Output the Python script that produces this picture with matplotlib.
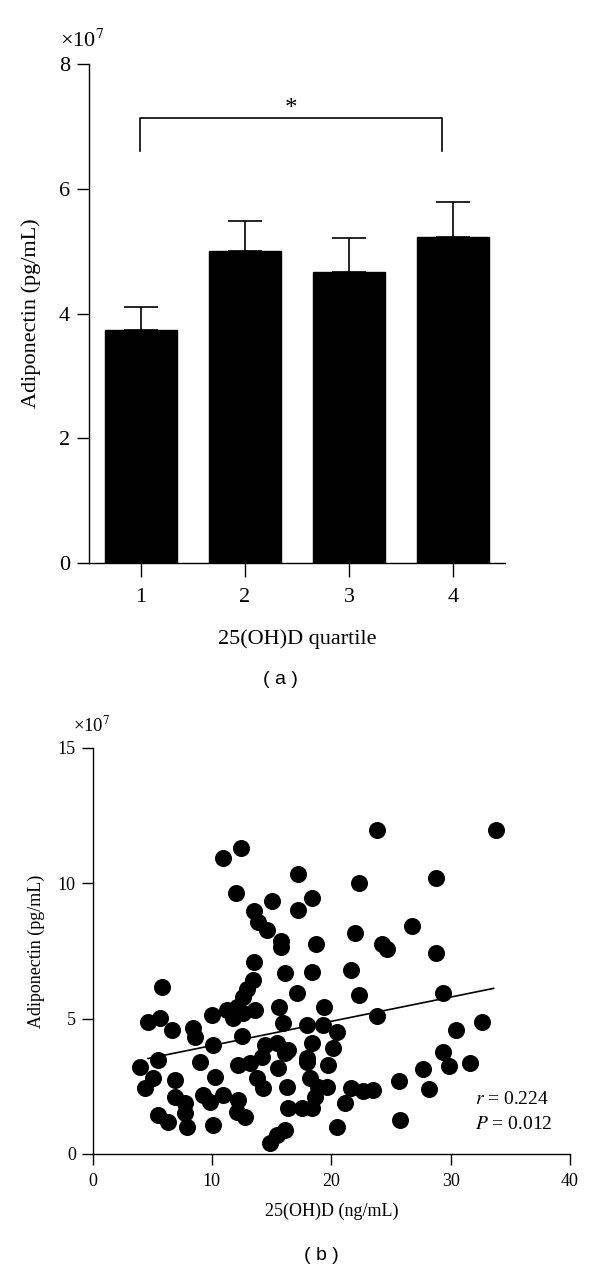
"""Adiponectin vs 25(OH)D: (a) quartile means with SEM, (b) scatter with regression line."""
import numpy as np
import matplotlib
matplotlib.use("Agg")
import matplotlib.pyplot as plt  # noqa: E402

plt.rcParams["font.family"] = ["Liberation Serif", "DejaVu Serif"]
plt.rcParams["mathtext.fontset"] = "stix"

# --- (a) adiponectin by 25(OH)D quartile (x1e7 pg/mL) -------------------------------------
quartiles = [1, 2, 3, 4]
quart_mean = [3.73, 5.00, 4.66, 5.22]
quart_err = [0.37, 0.48, 0.55, 0.57]
sig_pair = (1, 4)          # bracket with the asterisk
sig_level = 7.13

# --- (b) individual subjects: 25(OH)D (ng/mL) vs adiponectin (x1e7 pg/mL) ------------------
vitd = [10.93, 12.44, 17.21, 12.02, 15.03, 18.38, 17.21, 13.53, 13.86, 14.61,
        15.79, 15.79, 18.72, 21.99, 13.53, 16.12, 18.38, 21.65, 5.82, 13.44,
        12.94, 17.13, 23.83, 33.79, 22.32, 28.77, 26.76, 24.25, 24.66, 28.77,
        22.32, 29.36, 12.60, 10.01, 11.26, 12.10, 12.60, 13.61, 11.76, 15.62,
        19.39, 15.95, 17.96, 19.30, 20.48, 12.52, 10.09, 14.45, 15.45, 16.37,
        18.38, 20.14, 14.20, 17.96, 16.12, 9.00, 12.19, 13.19, 15.54, 17.96,
        19.72, 10.26, 13.78, 14.28, 16.29, 18.22, 18.89, 19.64, 18.63, 21.65,
        9.25, 9.84, 10.93, 12.19, 12.10, 12.77, 16.37, 17.55, 18.38, 21.15,
        10.09, 16.12, 15.45, 14.86, 20.48, 4.65, 5.66, 6.66, 8.42, 8.59,
        5.49, 3.98, 5.07, 4.40, 6.91, 6.91, 7.75, 5.49, 6.32, 7.91,
        7.75, 23.83, 30.44, 32.62, 29.36, 29.86, 31.62, 27.68, 25.67, 28.18,
        22.65, 23.49, 25.75]
adipo = [10.93, 11.30, 10.33, 9.63, 9.33, 9.44, 9.00, 8.96, 8.56, 8.26,
         7.85, 7.63, 7.74, 8.15, 7.11, 6.70, 6.74, 6.78, 6.15, 6.41,
         6.11, 5.96, 11.96, 11.96, 10.00, 10.19, 8.44, 7.74, 7.56, 7.41,
         5.89, 5.96, 5.81, 5.15, 5.33, 5.44, 5.22, 5.33, 5.04, 5.44,
         5.44, 4.85, 4.78, 4.78, 4.52, 4.37, 4.04, 4.04, 4.11, 3.85,
         4.11, 3.93, 3.59, 3.56, 3.74, 3.41, 3.30, 3.37, 3.19, 3.41,
         3.30, 2.85, 2.81, 2.44, 2.48, 2.81, 2.48, 2.48, 2.11, 2.44,
         2.19, 1.93, 2.19, 2.00, 1.56, 1.37, 1.70, 1.70, 1.70, 1.89,
         1.07, 0.89, 0.70, 0.41, 1.00, 4.89, 5.04, 4.59, 4.67, 4.33,
         3.48, 3.22, 2.81, 2.44, 2.74, 2.11, 1.89, 1.44, 1.19, 1.00,
         1.52, 5.11, 4.59, 4.89, 3.78, 3.26, 3.37, 3.15, 2.70, 2.41,
         2.33, 2.37, 1.26]
fit_slope, fit_icpt = 0.0895, 3.11
fit_range = (4.65, 33.6)
r_text, p_text = "0.224", "0.012"

fig = plt.figure(figsize=(6.0, 12.71), dpi=100)

# ---------------- panel (a) ----------------
ax1 = fig.add_axes([0.1483, 0.5570, 0.6933, 0.3926])
ax1.bar(quartiles, quart_mean, width=0.69, color="black", edgecolor="black", zorder=2)
ax1.errorbar(quartiles, quart_mean, yerr=[[0] * 4, quart_err], fmt="none",
             ecolor="black", elinewidth=1.2, capsize=12, capthick=1.2, zorder=1)
x0, x1 = sig_pair[0] - 0.01, sig_pair[1] - 0.11
ax1.plot([x0, x0, x1, x1], [6.6, sig_level, sig_level, 6.6], color="black", lw=1.2,
         clip_on=False)
ax1.text((x0 + x1) / 2, sig_level - 0.03, "*", ha="center", va="bottom", fontsize=18)
ax1.set_xlim(0.5, 4.5)
ax1.set_ylim(0, 8)
ax1.set_xticks(quartiles)
ax1.set_yticks([0, 2, 4, 6, 8])
ax1.spines[["top", "right"]].set_visible(False)
for s in ("left", "bottom"):
    ax1.spines[s].set_linewidth(1.0)
ax1.tick_params(axis="y", direction="out", length=8.5, width=1.0, labelsize=16, pad=5)
ax1.tick_params(axis="x", direction="out", length=10, width=1.0, labelsize=16, pad=8)
ax1.set_xlabel("25(OH)D quartile", fontsize=16, labelpad=16)
ax1.set_ylabel("Adiponectin (pg/mL)", fontsize=16, labelpad=13)
ax1.text(-0.07, 1.025, r"×10$^{7}$", transform=ax1.transAxes, fontsize=16,
         ha="left", va="bottom")
fig.text(0.468, 1 - 680 / 1271, "( a )", family="Liberation Sans", fontsize=14,
         ha="center", va="center")

# ---------------- panel (b) ----------------
ax2 = fig.add_axes([0.1542, 0.0921, 0.7958, 0.3194])
ax2.scatter(vitd, adipo, s=150, color="black", linewidths=0, zorder=2)
fx = np.array(fit_range)
ax2.plot(fx, fit_icpt + fit_slope * fx, color="black", lw=1.2, zorder=3)
ax2.set_xlim(0, 40)
ax2.set_ylim(0, 15)
ax2.set_xticks([0, 10, 20, 30, 40])
ax2.set_yticks([0, 5, 10, 15])
ax2.spines[["top", "right"]].set_visible(False)
for s in ("left", "bottom"):
    ax2.spines[s].set_linewidth(1.0)
ax2.tick_params(axis="y", direction="out", length=8, width=1.0, labelsize=13, pad=4)
ax2.tick_params(axis="x", direction="out", length=8, width=1.0, labelsize=13, pad=6)
ax2.set_xlabel("25(OH)D (ng/mL)", fontsize=13, labelpad=9)
ax2.set_ylabel("Adiponectin (pg/mL)", fontsize=13, labelpad=9)
ax2.text(-0.04, 1.03, r"×10$^{7}$", transform=ax2.transAxes, fontsize=13.5,
         ha="left", va="bottom")
ax2.text(32.0, 2.0, r"$r$ = " + r_text, fontsize=14, ha="left", va="center")
ax2.text(32.0, 1.07, r"$P$ = " + p_text, fontsize=14, ha="left", va="center")
fig.text(0.535, 1 - 1255 / 1271, "( b )", family="Liberation Sans", fontsize=14,
         ha="center", va="center")

fig.savefig("out.png", dpi=100)
